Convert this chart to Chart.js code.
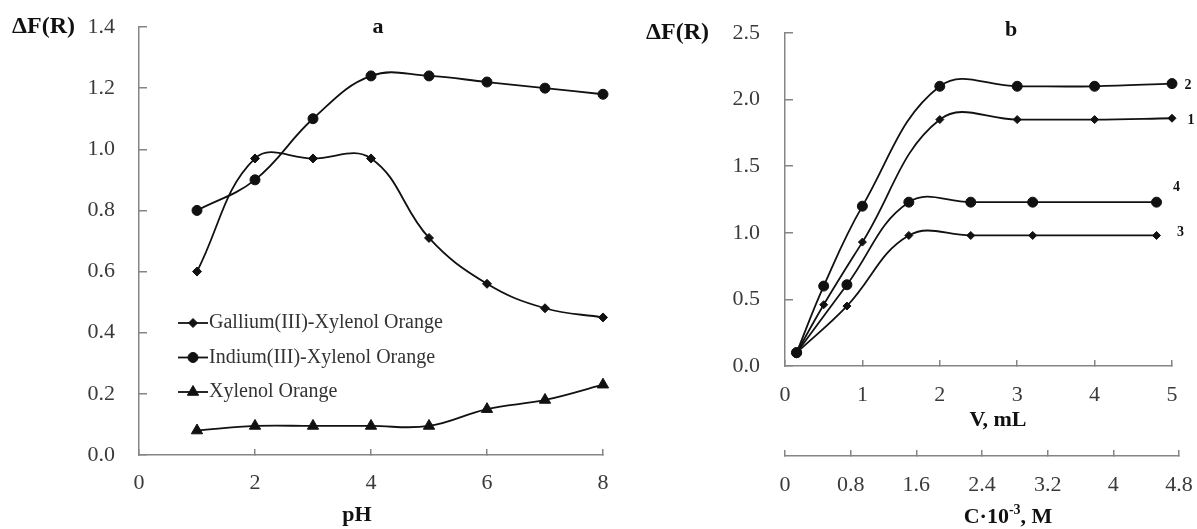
<!DOCTYPE html>
<html><head><meta charset="utf-8">
<script src="https://cdn.jsdelivr.net/npm/chart.js@4/dist/chart.umd.min.js"></script>
<style>
html,body{margin:0;padding:0;background:#fff;}
#wrap{position:relative;width:1197px;height:529px;overflow:hidden;background:#fff;}
canvas{position:absolute;top:0;}
#ca{left:0;} #cb{left:620px;}
</style></head><body>
<div id="wrap"><canvas id="ca" width="620" height="529"></canvas><canvas id="cb" width="577" height="529"></canvas></div>
<script>
// ---------- Panel a data ----------
const phValues   = [1, 2, 3, 4, 5, 6, 7, 8];
const galliumXO  = [0.60, 0.97, 0.97, 0.97, 0.71, 0.56, 0.48, 0.45];
const indiumXO   = [0.80, 0.90, 1.10, 1.24, 1.24, 1.22, 1.20, 1.18];
const xylenolO   = [0.08, 0.095, 0.095, 0.095, 0.095, 0.15, 0.18, 0.23];
const seriesNamesA = ['Gallium(III)-Xylenol Orange', 'Indium(III)-Xylenol Orange', 'Xylenol Orange'];
const phTicks    = [0, 2, 4, 6, 8];
const dfTicksA   = [0, 0.2, 0.4, 0.6, 0.8, 1.0, 1.2, 1.4];

// ---------- Panel b data ----------
const volume12   = [0.15, 0.5, 1, 2, 3, 4, 5];
const curve1     = [0.10, 0.46, 0.93, 1.85, 1.85, 1.85, 1.86];
const curve2     = [0.10, 0.60, 1.20, 2.10, 2.10, 2.10, 2.12];
const volume34   = [0.15, 0.8, 1.6, 2.4, 3.2, 4.8];
const curve3     = [0.10, 0.45, 0.98, 0.98, 0.98, 0.98];
const curve4     = [0.10, 0.61, 1.23, 1.23, 1.23, 1.23];
const curveTags  = ['1', '2', '3', '4'];
const vTicks     = [0, 1, 2, 3, 4, 5];
const cTicks     = [0, 0.8, 1.6, 2.4, 3.2, 4, 4.8];
const dfTicksB   = [0, 0.5, 1.0, 1.5, 2.0, 2.5];

// ---------- styles ----------
const FONT = "'Liberation Serif', 'DejaVu Serif', serif";
const AXIS = '#858585';
const TICKTXT = '#3a3a3a';
const INK = '#111111';
Chart.defaults.font.family = FONT;

function pts(xs, ys) { return xs.map((x, i) => ({x: x, y: ys[i]})); }
function fixedTicks(arr) { return (s) => { s.ticks = arr.map(v => ({value: v})); }; }

const textPlugin = {
  id: 'freeText',
  afterDraw(chart, args, opts) {
    const ctx = chart.ctx;
    for (const item of (opts.items || [])) {
      ctx.save();
      ctx.fillStyle = item.color || INK;
      ctx.textBaseline = 'middle';
      ctx.textAlign = 'left';
      const segs = item.segments || [{text: item.text, font: item.font}];
      let total = 0;
      segs.forEach(s => { ctx.font = s.font; s.w = ctx.measureText(s.text).width; total += s.w; });
      let x = item.align === 'left' ? item.x : item.x - total / 2;
      segs.forEach(s => { ctx.font = s.font; ctx.fillText(s.text, x, item.y + (s.dy || 0)); x += s.w; });
      ctx.restore();
    }
  }
};

function drawMarker(ctx, style, r, x, y) {
  if (Chart.helpers && Chart.helpers.drawPoint) {
    Chart.helpers.drawPoint(ctx, {pointStyle: style, radius: r, rotation: 0, borderWidth: 1}, x, y);
    return;
  }
  ctx.beginPath();
  if (style === 'circle') ctx.arc(x, y, r, 0, Math.PI * 2);
  else if (style === 'rectRot') { ctx.moveTo(x - r, y); ctx.lineTo(x, y - r); ctx.lineTo(x + r, y); ctx.lineTo(x, y + r); ctx.closePath(); }
  else { ctx.moveTo(x, y - r); ctx.lineTo(x + r * 0.866, y + r / 2); ctx.lineTo(x - r * 0.866, y + r / 2); ctx.closePath(); }
  ctx.fill(); ctx.stroke();
}

const lineLegend = {
  id: 'lineLegend',
  afterDraw(chart, args, opts) {
    if (!opts.show) return;
    const ctx = chart.ctx;
    chart.data.datasets.forEach((ds, i) => {
      const y = opts.y + i * opts.pitch;
      ctx.save();
      ctx.strokeStyle = ds.borderColor; ctx.lineWidth = ds.borderWidth;
      ctx.beginPath(); ctx.moveTo(opts.x, y); ctx.lineTo(opts.x + opts.lineLength, y); ctx.stroke();
      ctx.fillStyle = ds.pointBackgroundColor; ctx.strokeStyle = ds.pointBorderColor; ctx.lineWidth = 1;
      drawMarker(ctx, ds.pointStyle, ds.pointRadius, opts.x + opts.lineLength / 2, y);
      ctx.font = opts.font; ctx.fillStyle = opts.color; ctx.textAlign = 'left'; ctx.textBaseline = 'middle';
      ctx.fillText(ds.label, opts.x + opts.lineLength + opts.gap, y);
      ctx.restore();
    });
  }
};

const tagPlugin = {
  id: 'curveTags',
  afterDatasetsDraw(chart, args, opts) {
    if (!opts.offsets) return;
    const ctx = chart.ctx;
    chart.data.datasets.forEach((ds, i) => {
      const meta = chart.getDatasetMeta(i);
      const last = meta.data[meta.data.length - 1];
      const off = opts.offsets[i];
      ctx.save();
      ctx.font = opts.font; ctx.fillStyle = INK; ctx.textAlign = 'center'; ctx.textBaseline = 'middle';
      ctx.fillText(ds.tag, last.x + off[0], last.y + off[1]);
      ctx.restore();
    });
  }
};

const cAxisShift = {
  id: 'cAxisShift',
  afterLayout(chart, args, opts) {
    const s = chart.scales.c;
    if (!s || !opts.extra) return;
    s.right = s.right + opts.extra;
    s.width = s.right - s.left;
    s.configure();
  }
};

function lineDs(label, data, style, radius, extra) {
  return Object.assign({
    label: label, data: data, showLine: true, tension: 0.4,
    borderColor: INK, borderWidth: 1.8,
    pointStyle: style, pointRadius: radius, pointHoverRadius: radius,
    pointBackgroundColor: INK, pointBorderColor: INK, pointBorderWidth: 1,
    clip: false
  }, extra || {});
}

function axisGrid(len) {
  return {drawOnChartArea: false, drawTicks: true, tickLength: len, color: AXIS, tickColor: AXIS, tickWidth: 1.5, lineWidth: 1.5};
}
const border = {display: true, color: AXIS, width: 1.5};
const tickFont = {family: FONT, size: 22};

// ---------- Panel a ----------
new Chart(document.getElementById('ca'), {
  type: 'scatter',
  data: {
    datasets: [
      lineDs(seriesNamesA[0], pts(phValues, galliumXO), 'rectRot', 4.5),
      lineDs(seriesNamesA[1], pts(phValues, indiumXO), 'circle', 5),
      lineDs(seriesNamesA[2], pts(phValues, xylenolO), 'triangle', 6.5)
    ]
  },
  options: {
    responsive: false, animation: false, events: [],
    layout: {padding: {left: 0, top: 27, right: 17, bottom: 0}, autoPadding: false},
    scales: {
      x: {
        type: 'linear', position: 'bottom', min: 0, max: 8,
        afterBuildTicks: fixedTicks(phTicks),
        border: border, grid: axisGrid(-6),
        ticks: {padding: 21, color: TICKTXT, font: tickFont, maxRotation: 0, callback: v => String(v)},
        afterFit: s => { s.height = 74; s.paddingLeft = 0; s.paddingRight = 0; }
      },
      y: {
        type: 'linear', position: 'left', min: 0, max: 1.4,
        afterBuildTicks: fixedTicks(dfTicksA),
        border: border, grid: axisGrid(-8),
        ticks: {padding: 32, color: TICKTXT, font: tickFont, callback: v => v.toFixed(1)},
        afterFit: s => { s.width = 139; s.paddingTop = 0; s.paddingBottom = 0; }
      }
    },
    plugins: {
      legend: {display: false}, tooltip: {enabled: false},
      lineLegend: {show: true, x: 178, y: 323, pitch: 34.5, lineLength: 30, gap: 1, font: "20px " + FONT, color: '#333'},
      freeText: {items: [
        {text: 'ΔF(R)', font: 'bold 24px ' + FONT, x: 12, y: 27, align: 'left'},
        {text: 'a', font: 'bold 22px ' + FONT, x: 378, y: 27},
        {text: 'pH', font: 'bold 22px ' + FONT, x: 357, y: 515}
      ]}
    }
  },
  plugins: [textPlugin, lineLegend]
});

// ---------- Panel b ----------
const dsB = [
  lineDs('1', pts(volume12, curve1), 'rectRot', 4, {tag: curveTags[0]}),
  lineDs('2', pts(volume12, curve2), 'circle', 5, {tag: curveTags[1]}),
  lineDs('3', pts(volume34, curve3), 'rectRot', 4, {tag: curveTags[2]}),
  lineDs('4', pts(volume34, curve4), 'circle', 5, {tag: curveTags[3]})
];
new Chart(document.getElementById('cb'), {
  type: 'scatter',
  data: {datasets: dsB},
  options: {
    responsive: false, animation: false, events: [],
    layout: {padding: {left: 0, top: 33, right: 25, bottom: 0}, autoPadding: false},
    scales: {
      x: {
        type: 'linear', position: 'bottom', weight: 0, min: 0, max: 5,
        afterBuildTicks: fixedTicks(vTicks),
        border: border, grid: axisGrid(-6),
        ticks: {padding: 22, color: TICKTXT, font: tickFont, maxRotation: 0, callback: v => String(v)},
        afterFit: s => { s.height = 90; s.paddingLeft = 0; s.paddingRight = 0; }
      },
      c: {
        type: 'linear', axis: 'x', position: 'bottom', weight: 1, min: 0, max: 4.8,
        afterBuildTicks: fixedTicks(cTicks),
        border: border, grid: axisGrid(-6),
        ticks: {padding: 22, color: TICKTXT, font: tickFont, maxRotation: 0, callback: v => String(v)},
        afterFit: s => { s.height = 73; s.paddingLeft = 0; s.paddingRight = 0; }
      },
      y: {
        type: 'linear', position: 'left', min: 0, max: 2.5,
        afterBuildTicks: fixedTicks(dfTicksB),
        border: border, grid: axisGrid(-8),
        ticks: {padding: 33, color: TICKTXT, font: tickFont, callback: v => v.toFixed(1)},
        afterFit: s => { s.width = 165; s.paddingTop = 0; s.paddingBottom = 0; }
      }
    },
    plugins: {
      legend: {display: false}, tooltip: {enabled: false},
      cAxisShift: {extra: 7},
      curveTags: {font: 'bold 14px ' + FONT, offsets: [[19, 2], [16, 2], [24, -3], [20, -15]]},
      freeText: {items: [
        {text: 'ΔF(R)', font: 'bold 24px ' + FONT, x: 26, y: 33, align: 'left'},
        {text: 'b', font: 'bold 22px ' + FONT, x: 391, y: 30},
        {text: 'V, mL', font: 'bold 22px ' + FONT, x: 378, y: 420},
        {segments: [
          {text: 'C·10', font: 'bold 22px ' + FONT},
          {text: '-3', font: 'bold 14px ' + FONT, dy: -7},
          {text: ', M', font: 'bold 22px ' + FONT}
        ], x: 388, y: 517}
      ]}
    }
  },
  plugins: [textPlugin, tagPlugin, cAxisShift]
});
</script>
</body></html>
